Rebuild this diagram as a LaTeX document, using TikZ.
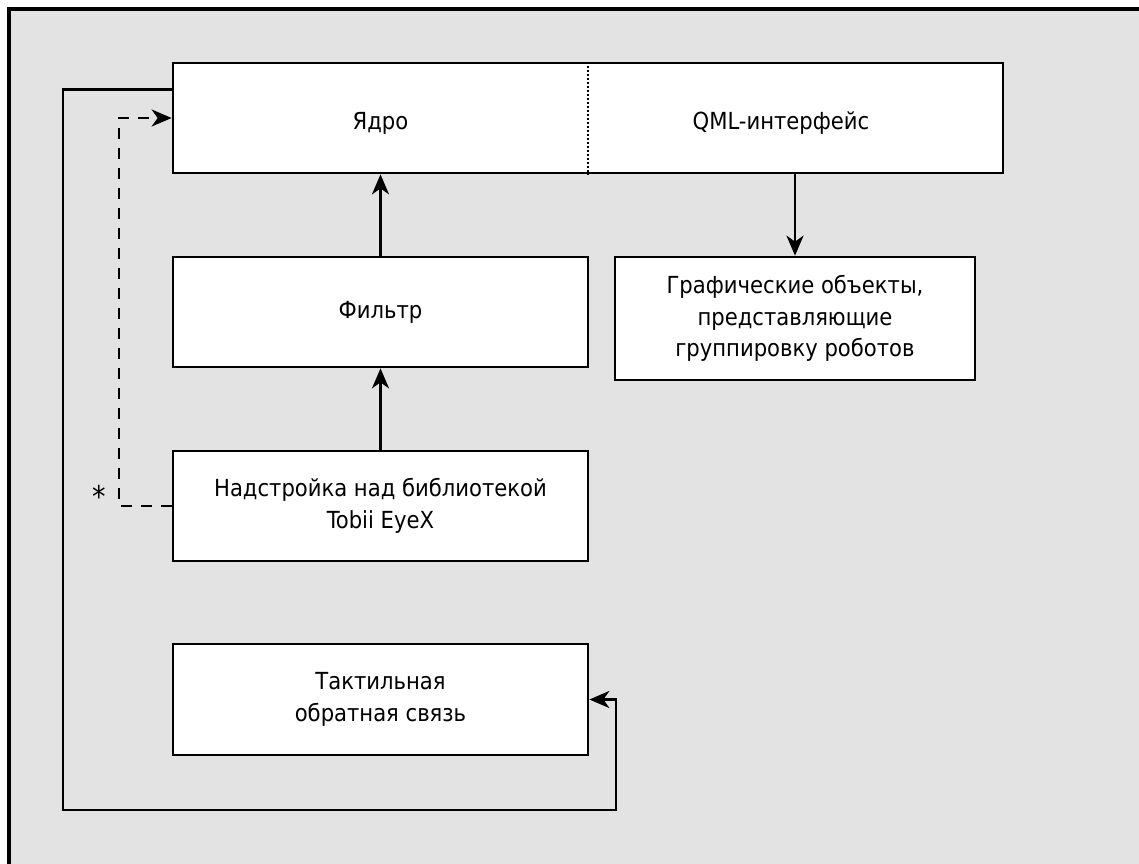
\documentclass[tikz,border=0pt]{standalone}
\usepackage{fontspec}
\setmainfont{DejaVu Sans Condensed}
\usetikzlibrary{arrows.meta,calc}
\definecolor{bggray}{RGB}{227,227,227}
\tikzset{
  box/.style={draw=black, line width=2.7pt, fill=white, inner sep=0pt, align=center, font=\fontsize{23.5}{31.5}\selectfont},
  lbl/.style={inner sep=0pt, align=center, font=\fontsize{23.5}{31.5}\selectfont},
  arr/.style={line width=2.7pt, -{Stealth[length=20pt,width=17pt,inset=6pt]}},
  dashconn/.style={line width=2.7pt, dash pattern=on 11pt off 9pt, -{Stealth[length=20pt,width=17pt,inset=6pt]}}
}
\begin{document}
\begin{tikzpicture}[x=1pt,y=-1pt]
\useasboundingbox (0,0) rectangle (1139,863);
\clip (0,0) rectangle (1139,863);
\fill[bggray] (8.8,8.8) rectangle (1150,870);
\draw[line width=3.4pt] (8.8,870) -- (8.8,8.8) -- (1150,8.8);
% top box
\node[box, minimum width=830pt, minimum height=110pt] (top) at (588,118) {};
\draw[line width=2.2pt, dash pattern=on 2pt off 2pt] (top.north) -- (top.south);
\node[lbl] (core) at (380.5,123) {Ядро};
\node[lbl] (qml) at (781,123) {QML-интерфейс};
% other boxes
\node[box, minimum width=415pt, minimum height=110pt] (filt) at (380.5,312) {Фильтр};
\node[box, minimum width=415pt, minimum height=110pt] (nad) at (380.5,506) {Надстройка над библиотекой\\Tobii EyeX};
\node[box, minimum width=415pt, minimum height=111pt] (tact) at (380.5,699.5) {Тактильная\\обратная связь};
\node[box, minimum width=360pt, minimum height=123pt] (gfx) at (795,318.5) {Графические объекты,\\представляющие\\группировку роботов};
% connectors
\draw[arr] (nad.north) -- (filt.south);
\draw[arr] (filt.north) -- (filt.north |- top.south);
\draw[arr] (gfx.north |- top.south) -- (gfx.north);
\coordinate (fbs) at ($(top.north west)+(0,28)$);
\coordinate (fbA) at (63,810);
\coordinate (fbC) at (616,699.5);
\draw[arr] (fbs) -| (fbA) -| (fbC) -- (tact.east);
\coordinate (dk) at (119,118);
\draw[dashconn] (nad.west) -| (dk) -- (top.west);
\node[lbl, font=\fontsize{30}{30}\selectfont] (ast) at (99,496) {*};
\end{tikzpicture}
\end{document}
